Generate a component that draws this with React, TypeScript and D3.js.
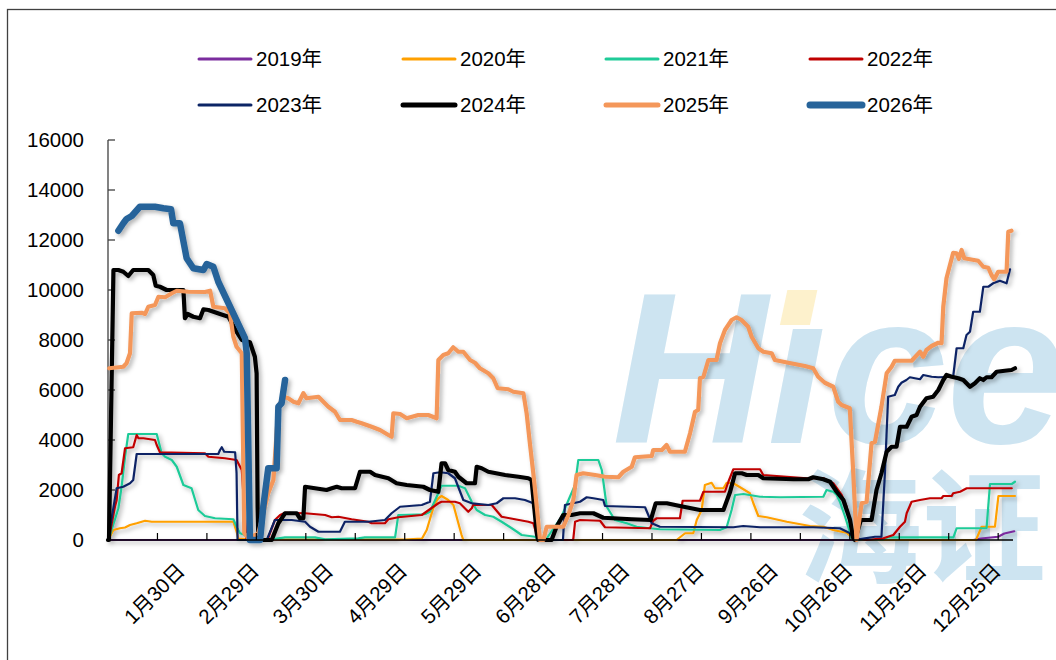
import React from "react";
import * as d3 from "d3";

type P = [number, number];

const seriesNames = ["2019年", "2020年", "2021年", "2022年", "2023年", "2024年", "2025年", "2026年"];
const seriesColors = ["#7B2C9E", "#FFA000", "#1FCB98", "#C00000", "#0B2465", "#000000", "#F4975A", "#27649A"];
const seriesWidths = [2.2, 2.2, 2.2, 2.2, 2.2, 4.2, 4.2, 6.5];

const s2019: P[] = [[0, 0], [350, 0], [353, 60], [360, 130], [362.5, 260], [366.5, 350]];

const s2020: P[] = [[0, 0], [0.4, 67], [2.2, 400], [4.8, 470], [6.9, 500], [8.9, 600], [11.6, 670], [15, 770], [17.7, 730], [50.7, 730], [52, 330], [52.7, 60], [58, 20], [120, 20], [127, 60], [128.9, 400], [130.9, 1070], [132.2, 1470], [133.6, 1670], [134.9, 1760], [137.6, 1600], [139.7, 1400], [141.7, 670], [143, 200], [143.7, 0], [230, 0], [230.7, 60], [233.4, 270], [236.7, 270], [238.1, 800], [240.1, 1200], [241.4, 2200], [244.1, 2290], [245.5, 2070], [248.9, 2070], [250.2, 2290], [252.9, 2270], [256.3, 2070], [259.6, 1870], [261, 1470], [263, 960], [266.4, 910], [274.5, 730], [283.9, 560], [289.3, 530], [293.3, 400], [298.7, 290], [301.4, 60], [302, 0], [351, 0], [351.3, 60], [353.3, 530], [358.7, 530], [360.1, 1760], [366.8, 1760]];

const s2021: P[] = [[0, 0], [0.4, 67], [4.2, 1270], [5.5, 2130], [6.9, 3330], [8.2, 4240], [19.7, 4240], [21.7, 3470], [23.1, 3330], [25.8, 3200], [27.8, 2930], [30.5, 2200], [33.8, 2070], [36.5, 1200], [39.2, 960], [43.3, 870], [50.7, 830], [52, 530], [53.4, 270], [55.4, 200], [57, 0], [64, 0], [68.9, 67], [71.6, 107], [83.7, 107], [87.8, 27], [101.2, 67], [103.9, 107], [116.1, 107], [117.4, 1000], [128.2, 1030], [130.2, 1130], [134.9, 2170], [141.7, 2170], [144.4, 2070], [147.1, 1530], [149.1, 1200], [152.5, 1000], [155.8, 930], [159.2, 730], [163.3, 470], [167.3, 200], [172.7, 130], [174, 0], [177, 0], [183.4, 930], [186.8, 1730], [188.9, 2200], [190.2, 3200], [198.3, 3200], [199.7, 2800], [201.7, 1330], [205, 800], [209.8, 670], [213.8, 530], [219.2, 470], [223.2, 430], [247.5, 400], [250.2, 510], [252.2, 1200], [253.6, 1800], [257, 1840], [263.7, 1730], [271.8, 1710], [289.3, 1730], [290.6, 2000], [293.3, 1930], [294.7, 1800], [296, 1530], [298.1, 930], [300.8, 67], [302.1, 0], [313.6, 27], [315.6, 107], [341.9, 107], [343.2, 470], [355.3, 470], [356.7, 2240], [365.5, 2240], [366.8, 2330]];

const s2022: P[] = [[0, 0], [0.4, 67], [2.8, 1330], [3.5, 1600], [4.4, 2600], [5.5, 2670], [6.9, 3670], [10.2, 3710], [11.6, 4200], [12.3, 4070], [14.3, 4070], [19, 4000], [19.7, 3800], [21, 3510], [39.2, 3470], [40.6, 3330], [47.3, 3270], [52, 3200], [54.1, 2800], [56, 0], [64.5, 0], [65.5, 270], [67.5, 800], [69.6, 1000], [71.6, 1090], [79.7, 1070], [87.8, 1000], [90.5, 910], [93.2, 930], [98.5, 830], [105.3, 730], [106.6, 670], [112, 670], [113.4, 830], [117.4, 910], [126.9, 1000], [133.6, 1470], [134.9, 1530], [140.3, 1530], [142.3, 1470], [145.7, 1130], [147.1, 1270], [147.7, 1400], [155.2, 1400], [159.2, 930], [170, 730], [172, 670], [174, 0], [188, 0], [188.2, 67], [188.9, 730], [190.9, 800], [199, 770], [201, 510], [219.2, 470], [220.5, 770], [221.9, 870], [231.3, 870], [232.4, 1570], [239.4, 1570], [240.8, 1930], [249.5, 1930], [250.9, 2330], [252.9, 2830], [263.7, 2830], [265, 2600], [274.5, 2530], [282.6, 2470], [289.3, 2470], [293.3, 2270], [296.7, 1800], [298.7, 1330], [301.4, 67], [306.8, 0], [313.6, 67], [317.6, 200], [320.3, 530], [322.3, 730], [323, 1070], [325, 1530], [328.4, 1600], [332.4, 1670], [337.1, 1670], [337.8, 1760], [341.2, 1760], [341.8, 1870], [344.6, 1930], [347.3, 2070], [365.5, 2070]];

const s2023: P[] = [[0, 0], [3.5, 2070], [6.2, 2130], [8.9, 2270], [10.2, 2400], [11.6, 3440], [44.6, 3440], [45.3, 3600], [46, 3710], [47, 3530], [51.4, 3510], [52, 2670], [52.4, 0], [64.2, 0], [67.5, 800], [74.3, 800], [79.7, 730], [81.7, 530], [85.1, 330], [93.8, 330], [95.8, 730], [105.3, 730], [112, 800], [114.7, 1070], [118.1, 1330], [126.9, 1400], [130.2, 1530], [131.6, 2670], [134.3, 2710], [137.6, 2670], [140.3, 2470], [143.7, 1600], [147.1, 1470], [153.8, 1400], [157.2, 1470], [159.9, 1670], [164.6, 1670], [168.6, 1600], [172, 1470], [174, 0], [184, 0], [184.8, 1400], [190.9, 1530], [193.6, 1710], [196.3, 1670], [200.3, 1600], [201, 1360], [217.2, 1310], [219.9, 670], [223.2, 530], [252.9, 510], [256.9, 560], [263.7, 510], [285.2, 510], [296, 470], [300.1, 270], [302.1, 0], [306.1, 67], [310.2, 130], [312.8, 130], [314.2, 2670], [315.5, 5730], [318.2, 5800], [319.6, 6130], [320.9, 6290], [322.9, 6400], [324.3, 6510], [326.3, 6470], [328.4, 6430], [329.7, 6600], [333.1, 6530], [335.8, 6510], [341.8, 6530], [343.2, 7670], [345.9, 7670], [347.2, 8200], [348.6, 8330], [349.9, 9130], [352.6, 9130], [354, 10130], [356, 10130], [358, 10270], [360.7, 10370], [363.4, 10270], [364.8, 10830]];

const s2024: P[] = [[0, 0], [0.4, 0], [2.2, 10800], [4.2, 10800], [6.2, 10730], [8.2, 10560], [10.2, 10800], [16.3, 10800], [18.3, 10600], [19.3, 10170], [21, 10130], [23.7, 10000], [30.5, 10000], [31.1, 8870], [32.2, 9040], [34.5, 8930], [37.2, 8870], [38.6, 9230], [40.6, 9200], [45.3, 9040], [48.7, 8930], [52, 8330], [54.1, 8000], [57.4, 7910], [59.4, 7330], [60.1, 6670], [60.5, 1330], [60.8, 0], [66.2, 0], [68.9, 670], [71.6, 1070], [76.3, 1070], [77.6, 870], [79, 870], [79.7, 2130], [83.7, 2070], [88.4, 2000], [90.5, 2070], [92.5, 2130], [94.5, 2070], [99.9, 2070], [101.9, 2730], [106, 2730], [108, 2600], [113.4, 2470], [116.7, 2270], [120.8, 2200], [127.5, 2130], [130.2, 2000], [133.6, 1930], [134.9, 3070], [136.3, 3070], [137.6, 2800], [140.3, 2730], [141.7, 2530], [145, 2270], [148.4, 2270], [149.1, 2930], [151.1, 2870], [153.8, 2730], [160.6, 2600], [166, 2530], [170, 2470], [171.3, 2400], [173.4, 270], [174, 0], [179.4, 0], [181.4, 530], [184.1, 1000], [187.5, 1000], [190.9, 1070], [196.3, 1070], [200.3, 890], [211.8, 830], [219.5, 800], [221.5, 1470], [226, 1470], [231.3, 1360], [239.4, 1200], [248.9, 1200], [251.6, 1930], [253.6, 2670], [256.3, 2670], [258.3, 2600], [263, 2600], [265, 2470], [277.2, 2430], [283.2, 2430], [285.2, 2510], [289.3, 2430], [292, 2330], [294.7, 1930], [297.4, 1600], [300.1, 800], [301.4, 70], [302.1, 0], [304.5, 800], [308.8, 800], [310.8, 2000], [312.8, 2670], [314.9, 3530], [316.9, 3730], [318.9, 3730], [320.3, 4530], [323, 4530], [325, 4930], [327, 5000], [328.4, 5330], [331, 5670], [333.7, 5730], [335.8, 6000], [337.8, 6400], [339.1, 6600], [341.2, 6530], [343.9, 6470], [345.9, 6400], [348.6, 6130], [350.6, 6270], [352.6, 6470], [354, 6400], [355.3, 6510], [357.3, 6510], [359.4, 6730], [362.7, 6770], [365.4, 6800], [366.8, 6870]];

const s2025: P[] = [[0.5, 6870], [6.2, 6930], [7.5, 7070], [8.9, 7470], [9.6, 9070], [13.6, 9090], [15, 9040], [16.3, 9330], [19, 9400], [20.4, 9730], [23.1, 9710], [25.8, 9870], [27.8, 9970], [32.5, 9930], [39.2, 9920], [41.3, 9970], [42.6, 9330], [47.3, 9270], [49.3, 9070], [50.7, 8130], [52, 7730], [54.1, 7470], [55.1, 270], [56.8, 70], [60.8, 270], [64.8, 1870], [66.9, 2400], [68.9, 5330], [70.9, 5730], [72.9, 5670], [75, 5530], [77, 5470], [79, 5870], [80.3, 5670], [85.1, 5730], [87.1, 5530], [89.1, 5330], [91.8, 5130], [93.8, 4800], [98.5, 4800], [100.6, 4730], [102.6, 4670], [106.6, 4530], [110, 4400], [113.4, 4200], [114.7, 4130], [115.4, 5070], [118.1, 5040], [120.8, 4870], [125.5, 5000], [129.5, 5000], [132.9, 4870], [133.6, 7200], [135.6, 7400], [137.6, 7470], [139.6, 7710], [141.7, 7530], [143.7, 7530], [146.4, 7200], [148.4, 7090], [150.4, 6870], [153.8, 6670], [155.8, 6470], [157.6, 6070], [161.9, 6030], [163.9, 5930], [168, 5870], [169.3, 5070], [170.7, 3800], [172, 2670], [173.4, 1330], [174.7, 0], [176.1, 0], [177.4, 530], [184.1, 530], [186.2, 1000], [188.2, 1600], [189.5, 2600], [192.2, 2670], [197, 2600], [201, 2530], [206.4, 2510], [208.4, 2730], [211.8, 2930], [213.1, 3310], [219.9, 3360], [220.5, 3600], [224, 3600], [225.9, 3800], [227.3, 3530], [233.3, 3530], [235.4, 4270], [237.4, 5130], [238.7, 5200], [239.4, 6470], [240.8, 6530], [242.8, 7200], [246.1, 7200], [247.5, 7870], [249.5, 8400], [252.2, 8800], [254.2, 8910], [256.2, 8800], [258.9, 8530], [260.3, 8130], [263, 7670], [265, 7530], [268.4, 7470], [269.7, 7200], [275.1, 7090], [281.8, 6960], [285.2, 6870], [287.2, 6530], [289.9, 6290], [293.3, 6130], [295.3, 5530], [296.7, 5400], [300, 5270], [301.4, 2670], [302.7, 0], [304.8, 1470], [306.8, 1530], [308.8, 3870], [310.2, 3930], [312.8, 5330], [314.9, 6670], [316.9, 6930], [318.2, 7170], [325, 7170], [328.4, 7530], [329.7, 7330], [331, 7600], [333.1, 7760], [335.8, 7890], [337.1, 7870], [337.8, 9330], [339.1, 10470], [341.8, 11490], [343.2, 11470], [344.1, 11240], [345.2, 11600], [346.3, 11270], [351.9, 11170], [354, 10930], [356, 10890], [357.3, 10600], [358.4, 10430], [360, 10730], [363.4, 10730], [364.1, 12330], [365.4, 12370]];

const s2026: P[] = [[4.2, 12370], [6.2, 12670], [7.5, 12840], [9.6, 12960], [12.9, 13330], [19, 13330], [22.4, 13270], [25.5, 13230], [26.4, 12670], [29.1, 12670], [31.8, 11270], [34.5, 10870], [38.6, 10800], [39.9, 11040], [42.6, 10930], [44.6, 10330], [55.4, 8070], [56.1, 7470], [57.4, 0], [61.5, 0], [62.8, 1330], [64.8, 2870], [68.2, 2870], [68.9, 5330], [70.2, 5470], [71.6, 6400]];

const seriesData: P[][] = [s2019, s2020, s2021, s2022, s2023, s2024, s2025, s2026];

const yTicks = [0, 2000, 4000, 6000, 8000, 10000, 12000, 14000, 16000];
const xTickDays = [20, 40, 60, 80, 100, 120, 140, 160, 180, 200, 220, 240, 260, 280, 300, 320, 340, 360];
const xLabelDays = [29, 59, 89, 119, 149, 179, 209, 239, 269, 299, 329, 359];
const xLabels = ["1月30日", "2月29日", "3月30日", "4月29日", "5月29日", "6月28日", "7月28日", "8月27日", "9月26日", "10月26日", "11月25日", "12月25日"];

const FONT = "'Liberation Sans', Arial, 'Noto Sans CJK SC', sans-serif";

export default function App() {
  const W = 1056;
  const H = 660;
  const x = d3.scaleLinear().domain([0, 366]).range([108, 1013]);
  const y = d3.scaleLinear().domain([0, 16000]).range([540, 140]);
  const line = d3
    .line<P>()
    .x((d) => x(d[0]))
    .y((d) => y(d[1]));

  const legendCols = [199, 403, 606, 810];
  const legendRows = [59, 105];

  return (
    <div style={{ position: "fixed", left: 0, top: 0, width: W, height: H, background: "#fff" }}>
      <svg width={W} height={H} style={{ display: "block" }}>
        <defs>
          <filter id="shadow" x="-5%" y="-5%" width="110%" height="115%">
            <feDropShadow dx="2.5" dy="2.5" stdDeviation="2" floodColor="#000" floodOpacity="0.3" />
          </filter>
        </defs>
        <rect x={0} y={0} width={W} height={H} fill="#fff" />
        {/* watermark */}
        <g fill="#CDE4F1">
          <text x={612} y={443} fontFamily={FONT} fontSize={215} fontWeight="bold" fontStyle="italic">
            Hıce
          </text>
          <text x={798} y={573} fontFamily="'Noto Sans CJK SC', sans-serif" fontSize={124} fontWeight="bold">
            海证
          </text>
        </g>
        <rect x={783} y={290} width={30} height={35} fill="#FDF1CC" transform="skewX(-12) translate(66,0)" />
        {/* frame */}
        <rect x={7.5} y={9.5} width={1100} height={700} fill="none" stroke="#404040" strokeWidth={1.3} />
        {/* axes */}
        <line x1={108} x2={108} y1={y(16000)} y2={y(0)} stroke="#404040" strokeWidth={1.3} />
        {yTicks.map((t) => (
          <g key={t}>
            <line x1={108} x2={115} y1={y(t)} y2={y(t)} stroke="#404040" strokeWidth={1.3} />
            <text x={84} y={y(t)} dy="0.36em" textAnchor="end" fontFamily={FONT} fontSize={20.5} fill="#000">
              {t}
            </text>
          </g>
        ))}
        {/* series */}
        <g filter="url(#shadow)" fill="none" strokeLinejoin="round" strokeLinecap="round">
          {seriesData.map((s, i) => (
            <path key={i} d={line(s) || ""} stroke={seriesColors[i]} strokeWidth={seriesWidths[i]} />
          ))}
        </g>
        <line x1={108} x2={1013} y1={y(0)} y2={y(0)} stroke="#000" strokeWidth={1.3} />
        {xTickDays.map((d) => (
          <line key={d} x1={x(d)} x2={x(d)} y1={y(0)} y2={y(0) - 7} stroke="#000" strokeWidth={1.2} />
        ))}
        {xLabelDays.map((d, i) => (
          <text
            key={d}
            transform={`translate(${x(d + 0.5)},567) rotate(-45)`}
            dy="0.35em"
            textAnchor="end"
            fontFamily={FONT}
            fontSize={20.5}
            fill="#000"
          >
            {xLabels[i]}
          </text>
        ))}
        {/* legend */}
        {seriesNames.map((n, i) => {
          const cx = legendCols[i % 4];
          const cy = legendRows[Math.floor(i / 4)];
          return (
            <g key={n}>
              <line x1={cx} x2={cx + 52} y1={cy} y2={cy} stroke={seriesColors[i]} strokeWidth={Math.min(seriesWidths[i] + 0.8, 7)} strokeLinecap="round" />
              <text x={cx + 57} y={cy} dy="0.36em" fontFamily={FONT} fontSize={20.5} fill="#000">
                {n}
              </text>
            </g>
          );
        })}
      </svg>
    </div>
  );
}
